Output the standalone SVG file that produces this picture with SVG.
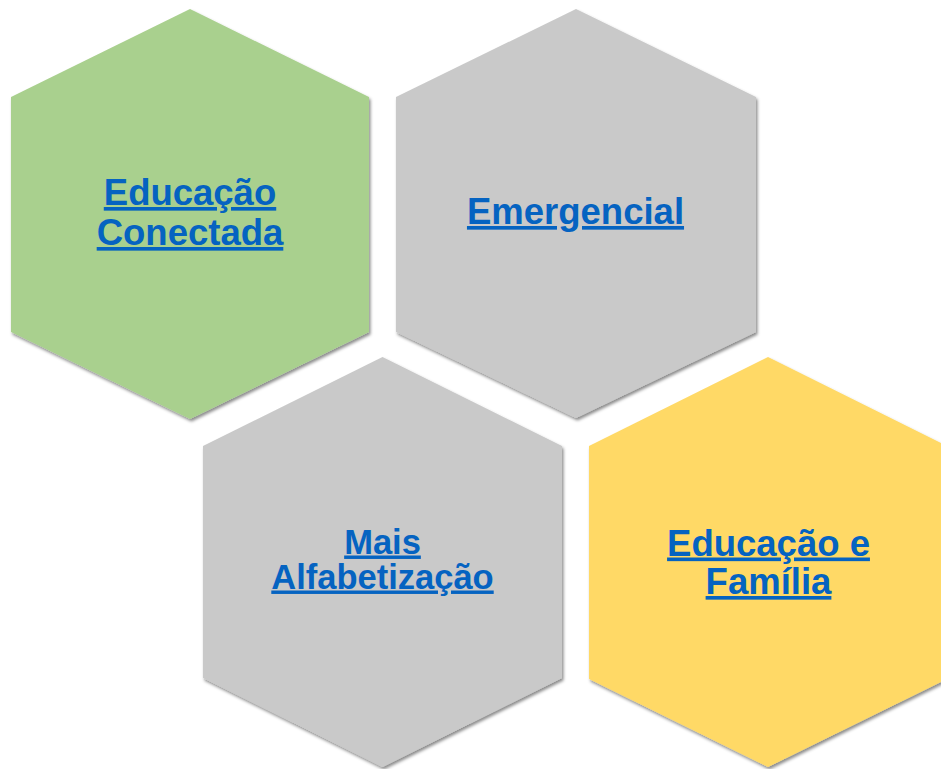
<svg xmlns="http://www.w3.org/2000/svg" width="941" height="769" viewBox="0 0 941 769">
  <defs>
    <filter id="shadow" x="-10%" y="-10%" width="120%" height="120%">
      <feDropShadow dx="1.5" dy="2.5" stdDeviation="1.8" flood-color="#000000" flood-opacity="0.45"/>
    </filter>
  </defs>
  <style>
    .hex { filter: url(#shadow); }
    .green { fill: #A9D08E; }
    .gray { fill: #C9C9C9; }
    .yellow { fill: #FFD966; }
    .label { font-family: "Liberation Sans", Arial, sans-serif; font-weight: bold; fill: #0563C1; text-anchor: middle; text-decoration: underline; }
  </style>
  <rect width="941" height="769" fill="#FFFFFF"/>
  <g id="connectors"/>
  <g id="node-educacao-conectada">
    <polygon class="hex green" points="190,9 369,97 369,332 190,419 11,332 11,97"/>
    <text class="label" font-size="36.5" x="190" y="205">Educação</text>
    <text class="label" font-size="36.5" x="190" y="245">Conectada</text>
  </g>
  <g id="node-emergencial">
    <polygon class="hex gray" points="576,9 756,97 756,332 576,418 396,332 396,97"/>
    <text class="label" font-size="36.5" x="575.5" y="224">Emergencial</text>
  </g>
  <g id="node-mais-alfabetizacao">
    <polygon class="hex gray" points="382.5,357 562,446 562,678 382.5,767 203,678 203,446"/>
    <text class="label" font-size="34.5" x="382.5" y="553.5">Mais</text>
    <text class="label" font-size="34.5" x="382.5" y="588.5">Alfabetização</text>
  </g>
  <g id="node-educacao-familia">
    <polygon class="hex yellow" points="768,357 947,446 947,679 768,767 589,679 589,446"/>
    <text class="label" font-size="36.5" x="768.5" y="555.5">Educação e</text>
    <text class="label" font-size="36.5" x="768.5" y="594">Família</text>
  </g>
</svg>
